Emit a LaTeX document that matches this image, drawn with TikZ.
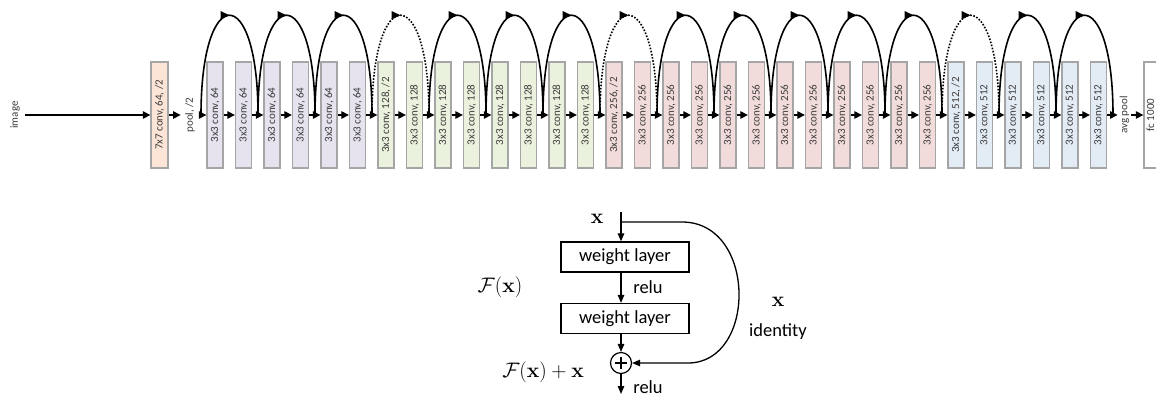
\RequirePackage{fix-cm}
\documentclass[tikz,border=0pt]{standalone}
\usepackage[no-math]{fontspec}
\newfontfamily\carlito{Carlito}
\usetikzlibrary{arrows.meta,decorations.markings,calc}
\definecolor{bord}{HTML}{A5A5A5}
\definecolor{cO}{HTML}{FCE4D6}
\definecolor{cL}{HTML}{E6E3EF}
\definecolor{cG}{HTML}{EAF1DD}
\definecolor{cP}{HTML}{F2DCDB}
\definecolor{cB}{HTML}{E3EBF5}
\definecolor{txt}{HTML}{3A3A3A}
\begin{document}
\begin{tikzpicture}[x=1pt,y=-1pt,
  layer/.style={draw=bord, line width=1.3pt, rotate=90, minimum width=106pt,
    minimum height=16pt, inner sep=0pt, font=\carlito\fontsize{11}{12}\selectfont, text=txt},
  lbl/.style={rotate=90, inner xsep=0pt, font=\carlito\fontsize{11}{12}\selectfont, text=txt},
  flow/.style={line width=1.2pt, -{Triangle[length=7.5pt,width=7.5pt]}},
  skiparc/.style={line width=1.6pt, postaction={decorate},
    decoration={markings, mark=at position 0.5 with {\arrow{Triangle[length=9pt,width=8pt]}}}},
  skipdot/.style={skiparc, dash pattern=on 1.6pt off 1.6pt},
  wl/.style={draw, line width=1.3pt, minimum width=128pt, minimum height=30pt,
    inner sep=0pt, font=\carlito\fontsize{18.5}{20}\selectfont},
  bflow/.style={line width=1.3pt, -{Triangle[length=8pt,width=6.5pt]}},
  sans/.style={inner sep=0pt, font=\carlito\fontsize{18.5}{20}\selectfont},
  mth/.style={inner sep=0pt, font=\fontsize{21}{24}\selectfont}
]
\useasboundingbox (0,0) rectangle (1156,397);

% ---------- top: ResNet-34 ----------
\node[lbl, inner ysep=5pt] (image) at (15,115) {image};
\node[layer, fill=cO, minimum height=17pt] (b0) at (159.5,115) {7x7 conv, 64, /2};
\node[lbl, inner ysep=4.5pt] (pool) at (190,115) {pool, /2};
\foreach \i in {1,...,32}{
  \ifnum\i<7 \def\cc{cL}\def\nn{64}\else\ifnum\i<15 \def\cc{cG}\def\nn{128}\else
    \ifnum\i<27 \def\cc{cP}\def\nn{256}\else\def\cc{cB}\def\nn{512}\fi\fi\fi
  \ifnum\i=7 \def\sfx{, /2}\else\ifnum\i=15 \def\sfx{, /2}\else
    \ifnum\i=27 \def\sfx{, /2}\else\def\sfx{}\fi\fi\fi
  \node[layer, fill=\cc] (b\i) at ({215+28.5*(\i-1)},115) {3x3 conv, \nn\sfx};
}
\node[lbl, inner ysep=2pt] (avg) at (1124.5,115) {avg pool};
\node[layer, fill=white, minimum height=13pt] (fc) at (1150.5,115) {fc 1000};

\draw[flow] (image) -- (b0);
\draw[flow] (b0) -- (pool);
\draw[flow] (pool) -- (b1);
\foreach \i in {1,...,31}{
  \pgfmathtruncatemacro\j{\i+1}
  \draw[flow] (b\i) -- (b\j);
}
\draw[flow] (b32) -- (avg);
\draw[flow] (avg) -- (fc);

\foreach \k in {1,...,33}{
  \coordinate (g\k) at ({201+28.5*(\k-1)},115);
}
\foreach \jj in {1,...,16}{
  \pgfmathtruncatemacro\a{2*\jj-1}
  \pgfmathtruncatemacro\b{2*\jj+1}
  \ifnum\jj=4 \def\st{skipdot}\else\ifnum\jj=8 \def\st{skipdot}\else
    \ifnum\jj=14 \def\st{skipdot}\else\def\st{skiparc}\fi\fi\fi
  \draw[\st] (g\a) .. controls ($(g\a)+(0,-133)$) and ($(g\b)+(0,-133)$) .. (g\b);
}

% ---------- bottom: residual block ----------
\coordinate (xtop) at (621,212);
\coordinate (br) at (621,222);
\node[mth] (xin) at (597,219) {$\mathbf{x}$};
\node[wl] (w1) at (625,257) {weight layer};
\node[wl] (w2) at (625,318.5) {weight layer};
\node[circle, draw, line width=1.2pt, minimum size=21pt, inner sep=0pt,
  path picture={
    \draw[line width=1.1pt] ([yshift=-6pt]path picture bounding box.center) -- ([yshift=6pt]path picture bounding box.center);
    \draw[line width=1.1pt] ([xshift=-6pt]path picture bounding box.center) -- ([xshift=6pt]path picture bounding box.center);
  }] (plus) at (621,363) {};
\coordinate (out) at (621,394);

\draw[line width=1.3pt] (xtop) -- (br);
\draw[bflow] (br) -- (br |- w1.north);
\draw[bflow] (xtop |- w1.south) -- (xtop |- w2.north);
\draw[bflow] (xtop |- w2.south) -- (plus);
\draw[bflow] (plus) -- (out);
\draw[bflow] (br) -- (682,222) .. controls (757,222) and (757,363) .. (688,363) -- (plus);

\node[sans] (relu1) at (648,287) {relu};
\node[sans] (relu2) at (648,387) {relu};
\node[mth] (fx) at (500,287) {$\mathcal{F}(\mathbf{x})$};
\node[mth] (fxx) at (543,372) {$\mathcal{F}(\mathbf{x})+\mathbf{x}$};
\node[mth] (xr) at (778,302) {$\mathbf{x}$};
\node[sans] (ident) at (778,332) {identity};
\end{tikzpicture}
\end{document}
